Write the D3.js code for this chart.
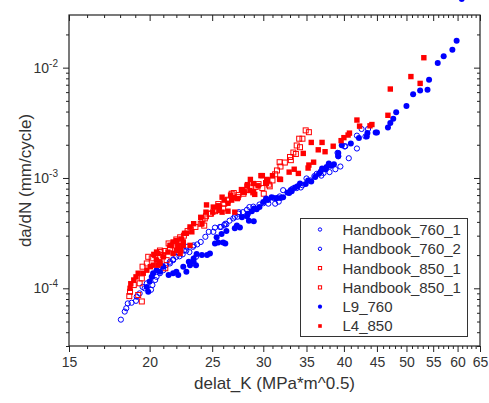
<!DOCTYPE html>
<html>
<head>
<meta charset="utf-8">
<script src="https://cdn.jsdelivr.net/npm/d3@7"></script>
<style>
body { margin: 0; background: #fff; }
svg { font-family: "Liberation Sans", Arial, sans-serif; }
</style>
</head>
<body>
<svg id="chart" width="489" height="403"></svg>
<script>
// values: [delta K, da/dN]
var hb760_1 = [
  [23.05,2.13e-4],[22.8,2.2e-4],[22.5,2.03e-4],[22.25,1.95e-4],[22.0,1.93e-4],[21.75,1.83e-4],
  [21.5,1.74e-4],[21.2,1.62e-4],[20.9,1.59e-4],[18.05,5.2e-5],[18.3,6.15e-5],[18.4,6.6e-5],
  [18.5,7.3e-5],[18.75,7.4e-5],[19.05,7.7e-5],[19.1,8.4e-5],[19.3,9.0e-5],[19.5,1.03e-4],
  [19.65,1.0e-4],[19.8,1.11e-4],[20.1,9.7e-5],[20.2,1.07e-4],[20.4,1.19e-4],[20.5,1.27e-4],
  [20.75,1.37e-4],[21.0,1.46e-4],[21.5,1.68e-4],[21.75,1.8e-4],[22.2,2.07e-4],[22.6,2.2e-4],
  [22.85,2.38e-4],[23.4,2.45e-4],[23.6,1.93e-4]
];
var hb760_2 = [
  [42.6,2.78e-3],[43.6,2.78e-3],[43.2,2.38e-3],[41.9,2.42e-3],[40.2,1.94e-3],[41.9,1.85e-3],
  [39.1,1.69e-3],[39.2,1.57e-3],[40.7,1.51e-3],[39.5,1.27e-3],[38.8,1.2e-3],[38.0,1.13e-3],
  [37.5,1.2e-3],[37.2,1.11e-3],[36.3,1.09e-3],[36.9,1.05e-3],[36.0,1.04e-3],[35.5,9.5e-4],
  [35.0,9.9e-4],[34.5,8.6e-4],[34.3,8.2e-4],[33.8,8.1e-4],[33.3,8.0e-4],[32.2,7.75e-4],
  [31.8,6.8e-4],[31.1,6.6e-4],[40.1,1.93e-3],[31.7,6.1e-4],[31.3,5.85e-4],[30.55,5.85e-4],
  [30.0,5.9e-4],[29.6,5.75e-4],[28.95,5.5e-4],[28.55,5.45e-4],[28.3,5.15e-4],[27.9,4.9e-4],
  [27.5,4.9e-4],[27.35,4.45e-4],[26.95,4.3e-4],[26.6,4.1e-4],[26.3,3.8e-4],[26.1,3.75e-4],
  [25.7,3.6e-4],[25.25,3.55e-4],[27.45,4.75e-4],[27.1,4.45e-4],[26.2,3.85e-4],[25.8,3.6e-4],
  [25.1,3.25e-4],[24.7,3.25e-4],[24.4,2.93e-4],[24.0,2.63e-4],[23.7,2.5e-4],[23.35,2.38e-4]
];
var hb850_a = [
  [34.9,2.7e-3],[35.3,2.6e-3],[34.1,2.27e-3],[34.5,2.27e-3],[33.8,1.97e-3],[34.2,1.9e-3],
  [33.4,1.7e-3],[33.7,1.65e-3],[33.0,1.55e-3],[33.1,1.45e-3],[31.8,1.39e-3],[32.4,1.38e-3],
  [31.9,1.27e-3],[31.5,1.17e-3],[31.3,1.08e-3],[31.0,9.5e-4],[30.7,8.4e-4],[30.6,8.7e-4],
  [30.3,9.0e-4],[29.5,8.8e-4],[29.9,8.1e-4],[28.95,7.4e-4],[30.05,7.2e-4],[28.3,7.8e-4],
  [28.0,7.45e-4],[30.4,9.5e-4],[29.2,8.3e-4],[28.75,8.2e-4],[27.95,7.2e-4],[27.45,7.0e-4],
  [27.0,7.3e-4],[26.8,7.2e-4]
];
var hb850_b = [
  [26.45,6.35e-4],[26.1,5.85e-4],[25.55,5.8e-4],[25.25,5.0e-4],[24.9,4.75e-4],[24.45,4.5e-4],
  [24.15,4.2e-4],[24.3,3.7e-4],[27.4,6.7e-4],[26.45,6.25e-4],[26.0,5.3e-4],[25.4,5.1e-4],
  [24.8,4.75e-4],[24.35,4.3e-4],[24.0,3.85e-4],[23.55,3.6e-4],[23.15,3.4e-4],[22.9,3.3e-4],
  [22.6,3.0e-4],[22.3,2.9e-4],[22.0,2.77e-4],[21.75,2.45e-4],[21.4,2.55e-4],[21.1,2.18e-4],
  [21.0,2.0e-4],[20.8,2.13e-4],[21.25,1.8e-4],[21.15,1.52e-4],[19.45,7.6e-5],[18.6,8.5e-5],
  [19.2,8.7e-5],[18.65,9.3e-5],[18.9,1.07e-4],[19.3,1.11e-4],[19.45,1.23e-4],[19.5,1.57e-4],
  [19.8,1.68e-4],[19.9,1.93e-4],[20.15,1.87e-4],[20.4,2.0e-4],[20.75,2.2e-4],[21.5,2.3e-4],
  [21.85,2.55e-4],[22.4,2.63e-4]
];
var l9_760 = [
  [60.9,0.042],[59.8,1.75e-2],[58.9,1.45e-2],[57.1,1.27e-2],[55.9,1.1e-2],[54.2,7.75e-3],
  [53.9,6.3e-3],[52.5,6.2e-3],[51.2,5.75e-3],[50.0,4.5e-3],[48.2,3.95e-3],[47.7,3.45e-3],
  [47.2,3.15e-3],[46.8,2.87e-3],[45.0,2.58e-3],[44.8,2.58e-3],[43.5,2.56e-3],[43.4,2.38e-3],
  [42.2,2.3e-3],[41.0,2.05e-3],[39.7,1.98e-3],[39.2,1.68e-3],[39.2,1.58e-3],[38.6,1.33e-3],
  [37.9,1.35e-3],[38.2,1.29e-3],[37.6,1.26e-3],[37.4,1.2e-3],[37.0,1.22e-3],[36.8,1.14e-3],
  [36.6,1.09e-3],[36.1,1.02e-3],[35.6,9.3e-4],[35.2,9.5e-4],[34.9,8.8e-4],[34.2,8.9e-4],
  [33.9,8.4e-4],[33.6,8.2e-4],[33.1,7.8e-4],[32.9,7.3e-4],[33.2,7.6e-4],[32.7,7.4e-4],
  [32.2,6.7e-4],[31.9,6.6e-4],[31.5,6.6e-4],[31.4,6.5e-4],[30.9,6.7e-4],[30.3,6.5e-4],
  [30.5,6.3e-4],[30.0,6.05e-4],[29.6,5.45e-4],[29.3,5.2e-4],[29.05,5.3e-4],[28.8,5.0e-4],
  [28.4,4.75e-4],[28.3,4.5e-4],[27.8,4.4e-4],[29.0,4.05e-4],[28.5,4.1e-4],[27.3,3.7e-4],
  [27.6,3.55e-4],[27.1,3.5e-4],[26.3,3.3e-4],[25.85,3.1e-4],[25.4,2.9e-4],[26.0,2.6e-4],
  [26.2,2.55e-4],[25.55,2.6e-4],[25.25,2.55e-4],[24.8,2.07e-4],[24.55,2.0e-4],[24.1,2.0e-4],
  [23.65,2.05e-4],[23.4,1.86e-4],[23.0,1.74e-4],[23.1,1.62e-4],[23.6,1.62e-4],[22.55,1.57e-4],
  [23.4,1.74e-4],[22.8,1.41e-4],[22.15,1.32e-4],[22.0,1.41e-4],[21.75,1.37e-4],[21.4,1.32e-4],
  [21.0,1.57e-4],[20.75,1.41e-4],[20.5,1.46e-4],[20.25,1.37e-4],[20.15,1.27e-4],[20.0,1.15e-4],
  [19.8,1.03e-4],[19.9,9.3e-5]
];
var l4_850 = [
  [53.2,1.23e-2],[50.8,8.3e-3],[52.5,7.2e-3],[47.2,6.4e-3],[46.8,3.7e-3],[41.9,3.35e-3],
  [42.3,2.95e-3],[44.2,3.05e-3],[43.9,2.97e-3],[40.8,2.55e-3],[40.0,2.32e-3],[39.6,2.18e-3],
  [38.5,1.94e-3],[37.0,2.1e-3],[35.6,2.1e-3],[36.5,1.8e-3],[37.4,1.73e-3],[34.6,1.67e-3],
  [35.9,1.39e-3],[35.3,1.31e-3],[35.2,1.23e-3],[33.5,1.2e-3],[32.9,1.13e-3],[34.0,1.1e-3],
  [31.9,9.7e-4],[29.9,1.05e-3],[31.0,1.05e-3],[30.4,9.7e-4],[28.95,8.9e-4],[28.35,8.7e-4],
  [40.6,2.45e-3],[29.75,1.05e-3],[30.3,9.0e-4],[29.45,8.5e-4],[28.65,9.7e-4],[28.6,7.7e-4],
  [28.95,7.45e-4],[29.1,7.1e-4],[28.3,8.45e-4],[27.75,7.85e-4],[27.95,7.45e-4],[27.35,6.5e-4],
  [26.7,7.0e-4],[26.8,6.3e-4],[27.1,4.9e-4],[26.45,5.0e-4],[25.9,4.9e-4],[25.6,5.1e-4],
  [25.9,6.7e-4],[26.1,6.3e-4],[26.45,5.9e-4],[25.55,5.6e-4],[25.1,5.45e-4],[24.5,5.7e-4],
  [24.45,4.9e-4],[25.05,4.9e-4],[31.8,9.75e-4],[27.0,6.6e-4],[25.65,5.45e-4],[24.0,4.4e-4],
  [24.1,3.85e-4],[23.4,3.85e-4],[23.1,3.6e-4],[23.25,3.25e-4],[22.8,3.15e-4],[22.4,2.8e-4],
  [22.0,2.7e-4],[21.75,2.63e-4],[21.5,2.45e-4],[21.75,2.07e-4],[21.0,1.93e-4],[20.75,1.74e-4],
  [20.5,2.13e-4],[20.3,2.03e-4],[20.6,1.62e-4],[22.55,2.45e-4],[22.35,2.2e-4],[22.65,3.15e-4],
  [18.7,1.1e-4],[18.9,1.19e-4],[18.65,1.0e-4],[19.05,1.27e-4],[19.2,1.37e-4],[19.55,1.37e-4],
  [19.8,1.46e-4],[20.05,1.57e-4],[20.25,1.62e-4],[20.5,1.8e-4],[20.6,2.07e-4],[21.35,2.13e-4],
  [20.75,1.68e-4],[21.6,2.45e-4],[22.15,2.45e-4],[22.0,2.2e-4],[22.55,2.63e-4],[23.1,2.45e-4],
  [22.3,2.07e-4]
];

var seriesNames = ["Handbook_760_1", "Handbook_760_2", "Handbook_850_1", "Handbook_850_1", "L9_760", "L4_850"];
var seriesData = [hb760_1, hb760_2, hb850_a, hb850_b, l9_760, l4_850];
var seriesColor = ["#0000ff", "#0000ff", "#ff0000", "#ff0000", "#0000ff", "#ff0000"];
var seriesShape = ["openCircle", "openCircle", "openSquare", "openSquare", "circle", "square"];

var xTicks = [15, 20, 25, 30, 35, 40, 45, 50, 55, 60, 65];
var xMinor = d3.range(16, 65).filter(d => d % 5 != 0);
var yTicks = [1e-4, 1e-3, 1e-2];
var yTickExp = ["-4", "-3", "-2"];
var yMinor = [3e-5,4e-5,5e-5,6e-5,7e-5,8e-5,9e-5,2e-4,3e-4,4e-4,5e-4,6e-4,7e-4,8e-4,9e-4,
              2e-3,3e-3,4e-3,5e-3,6e-3,7e-3,8e-3,9e-3,2e-2];

var margin = {left: 69, right: 9, top: 15, bottom: 57};
var width = 489 - margin.left - margin.right;
var height = 403 - margin.top - margin.bottom;

var svg = d3.select("#chart");
var g = svg.append("g")
    .attr("transform", "translate(" + margin.left + "," + margin.top + ")");

var x = d3.scaleLog().domain([15, 65]).range([0, width]);
var y = d3.scaleLog().domain([3e-5, 3e-2]).range([height, 0]);

var axisColor = "#222";

function styleAxis(sel) {
  sel.select(".domain").remove();
  sel.selectAll("line").attr("stroke", axisColor);
  sel.selectAll("text").attr("fill", "#333").style("font-size", "14px");
}

// bottom: ticks outward
g.append("g")
    .attr("transform", "translate(0," + height + ")")
    .call(d3.axisBottom(x).tickValues(xMinor).tickFormat("").tickSizeInner(3).tickSizeOuter(0))
    .call(styleAxis);
g.append("g")
    .attr("transform", "translate(0," + height + ")")
    .call(d3.axisBottom(x).tickValues(xTicks).tickFormat(d3.format("d")).tickSizeInner(6).tickSizeOuter(0).tickPadding(5))
    .call(styleAxis);

// top: ticks inward, no labels
g.append("g")
    .call(d3.axisTop(x).tickValues(xMinor).tickFormat("").tickSizeInner(-3).tickSizeOuter(0))
    .call(styleAxis);
g.append("g")
    .call(d3.axisTop(x).tickValues(xTicks).tickFormat("").tickSizeInner(-6).tickSizeOuter(0))
    .call(styleAxis);

// left: ticks outward, labels drawn below
g.append("g")
    .call(d3.axisLeft(y).tickValues(yMinor).tickFormat("").tickSizeInner(3).tickSizeOuter(0))
    .call(styleAxis);
g.append("g")
    .call(d3.axisLeft(y).tickValues(yTicks).tickFormat("").tickSizeInner(6).tickSizeOuter(0))
    .call(styleAxis);

// right: ticks inward
g.append("g")
    .attr("transform", "translate(" + width + ",0)")
    .call(d3.axisRight(y).tickValues(yMinor).tickFormat("").tickSizeInner(-3).tickSizeOuter(0))
    .call(styleAxis);
g.append("g")
    .attr("transform", "translate(" + width + ",0)")
    .call(d3.axisRight(y).tickValues(yTicks).tickFormat("").tickSizeInner(-6).tickSizeOuter(0))
    .call(styleAxis);

var ylab = g.append("g").selectAll("text")
    .data(yTicks)
  .enter().append("text")
    .attr("x", -11)
    .attr("y", d => y(d) + 5)
    .attr("text-anchor", "end")
    .attr("fill", "#333")
    .style("font-size", "14px");
ylab.append("tspan").text("10");
ylab.append("tspan")
    .attr("dy", -6)
    .style("font-size", "10px")
    .text((d, i) => yTickExp[i]);

// frame
g.append("rect")
    .attr("width", width)
    .attr("height", height)
    .attr("fill", "none")
    .attr("stroke", axisColor)
    .attr("stroke-width", 1.2);

// axis titles
svg.append("text")
    .attr("x", margin.left + width / 2)
    .attr("y", 389)
    .attr("text-anchor", "middle")
    .attr("fill", "#333")
    .style("font-size", "17px")
    .text("delat_K (MPa*m^0.5)");

svg.append("text")
    .attr("transform", "translate(31," + (margin.top + height / 2) + ") rotate(-90)")
    .attr("text-anchor", "middle")
    .attr("fill", "#333")
    .style("font-size", "17px")
    .text("da/dN (mm/cycle)");

function drawMarker(sel, shape, color, big) {
  var r = big ? 3.0 : 2.1;
  if (shape == "circle") {
    sel.append("circle").attr("r", r).attr("fill", color);
  } else if (shape == "openCircle") {
    sel.append("circle").attr("r", r - 0.4).attr("fill", "none").attr("stroke", color).attr("stroke-width", 1);
  } else if (shape == "square") {
    sel.append("rect").attr("x", -r + 0.3).attr("y", -r + 0.3).attr("width", 2 * r - 0.6).attr("height", 2 * r - 0.6).attr("fill", color);
  } else {
    sel.append("rect").attr("x", -r + 0.5).attr("y", -r + 0.5).attr("width", 2 * r - 1).attr("height", 2 * r - 1)
        .attr("fill", "none").attr("stroke", color).attr("stroke-width", 1);
  }
}

seriesData.forEach(function(data, i) {
  var layer = g.append("g").attr("class", "series");
  layer.selectAll("g")
      .data(data)
    .enter().append("g")
      .attr("transform", d => "translate(" + x(d[0]) + "," + y(d[1]) + ")")
      .each(function() { drawMarker(d3.select(this), seriesShape[i], seriesColor[i], true); });
});

// legend
var legend = svg.append("g").attr("transform", "translate(300.5,218.5)");
legend.append("rect")
    .attr("width", 167)
    .attr("height", 118)
    .attr("fill", "#fff")
    .attr("stroke", "#333")
    .attr("stroke-width", 1);

var item = legend.selectAll(".item")
    .data(seriesNames)
  .enter().append("g")
    .attr("class", "item")
    .attr("transform", (d, i) => "translate(0," + (11 + i * 19.3) + ")");

item.each(function(d, i) {
  var m = d3.select(this).append("g").attr("transform", "translate(19.5,0)");
  drawMarker(m, seriesShape[i], seriesColor[i], false);
});

item.append("text")
    .attr("x", 42)
    .attr("dy", "0.36em")
    .attr("fill", "#333")
    .style("font-size", "15px")
    .text(d => d);
</script>
</body>
</html>
